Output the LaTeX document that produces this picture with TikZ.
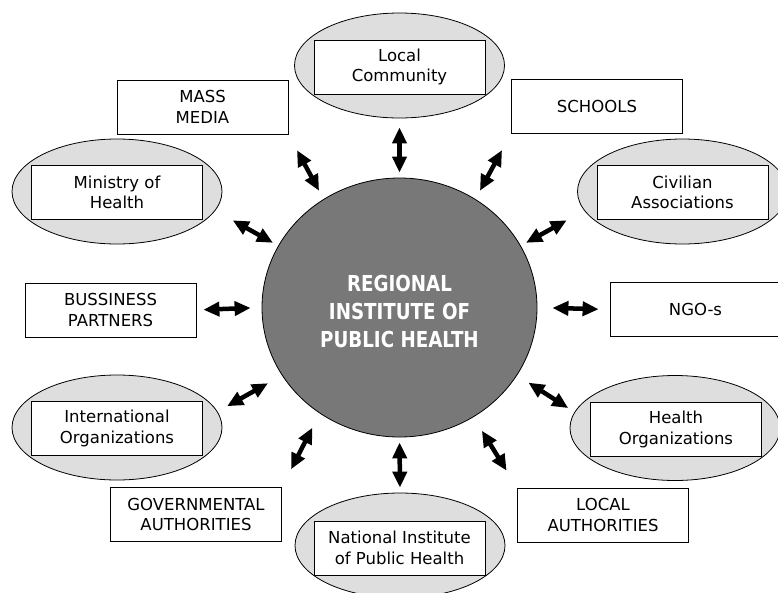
\documentclass[tikz,border=0pt]{standalone}
\usepackage{fontspec}
\setmainfont{DejaVu Sans}
\newfontfamily\corefont[FakeStretch=0.83]{DejaVu Sans}
\usetikzlibrary{arrows.meta,shapes.geometric,positioning}
\definecolor{ovalgray}{gray}{0.87}
\definecolor{coregray}{gray}{0.47}
\tikzset{
  core/.style = {ellipse, draw, line width=0.8pt, fill=coregray, minimum width=275pt,
                 minimum height=259pt, inner sep=0pt, align=center, text=white,
                 font=\corefont\bfseries\fontsize{22}{28}\selectfont},
  oval/.style = {ellipse, draw, line width=0.8pt, fill=ovalgray, minimum width=210pt,
                 minimum height=105pt, inner sep=0pt},
  card/.style = {draw, line width=0.8pt, fill=white, minimum width=171pt, minimum height=54pt,
                 inner sep=0pt, align=center, font=\fontsize{16.5}{20.5}\selectfont},
  link/.style = {{Triangle[length=16pt,width=14pt]}-{Triangle[length=16pt,width=14pt]},
                 line width=4.5pt},
}

\begin{document}
\begin{tikzpicture}[x=1pt, y=-1pt]
  \useasboundingbox (0,0) rectangle (778,592);
  \node[core] (rip) at (399.5,307.5) {\rule{0pt}{24pt}REGIONAL\\INSTITUTE OF\\PUBLIC HEALTH};

  %ovals first, the cards sit on them
  \node[oval] (lcomm) at (399.5,65.5) {};
  \node[card] (lcomm-card) at (399.5,67) {Local\\Community};
  \node[oval] (ministry) at (117,191.5) {};
  \node[card] (ministry-card) at (117,192.5) {Ministry of\\Health};
  \node[oval] (civil) at (682.5,191.5) {};
  \node[card] (civil-card) at (682.5,192.5) {Civilian\\Associations};
  \node[oval] (intl) at (117,427.5) {};
  \node[card] (intl-card) at (117,428.5) {International\\Organizations};
  \node[oval] (health) at (675,428) {};
  \node[card] (health-card) at (676,429.5) {Health\\Organizations};
  \node[oval] (natl) at (400,545.5) {};
  \node[card] (natl-card) at (399.5,548) {National Institute\\of Public Health};

  \node[card] (media) at (202.5,107) {MASS\\MEDIA};
  \node[card] (schools) at (597,106) {SCHOOLS};
  \node[card] (partners) at (110.5,310) {BUSSINESS\\PARTNERS};
  \node[card] (ngo) at (695.5,309.5) {NGO-s};
  \node[card] (gov) at (196,514.5) {GOVERNMENTAL\\AUTHORITIES};
  \node[card] (locauth) at (603,515) {LOCAL\\AUTHORITIES};

  \draw[link, shorten <=5pt, shorten >=9pt] (rip.north) -- (lcomm.south);
  \draw[link, shorten <=5pt, shorten >=5pt] (rip.south) -- (natl.north);
  \draw[link, shorten <=9.5pt, shorten >=18pt] (rip.125) -- (media.south east);
  \draw[link, shorten <=9.5pt, shorten >=19pt] (rip.55) -- (schools.south west);
  \draw[link, shorten <=6pt, shorten >=20pt] (rip.153) -- (ministry.349);
  \draw[link, shorten <=6pt, shorten >=20pt] (rip.27) -- (civil.191);
  \draw[link, shorten <=11pt, shorten >=7pt] (rip.west) -- (partners.east);
  \draw[link, shorten <=15pt, shorten >=11pt] (rip.east) -- (ngo.west);
  \draw[link, shorten <=16pt, shorten >=11pt] (rip.210) -- (intl.9);
  \draw[link, shorten <=13.5pt, shorten >=7.5pt] (rip.330) -- (health.171);
  \draw[link, shorten <=16pt, shorten >=20pt] (rip.233) -- (gov.north east);
  \draw[link, shorten <=16pt, shorten >=20pt] (rip.304) -- (locauth.north west);
\end{tikzpicture}
\end{document}
